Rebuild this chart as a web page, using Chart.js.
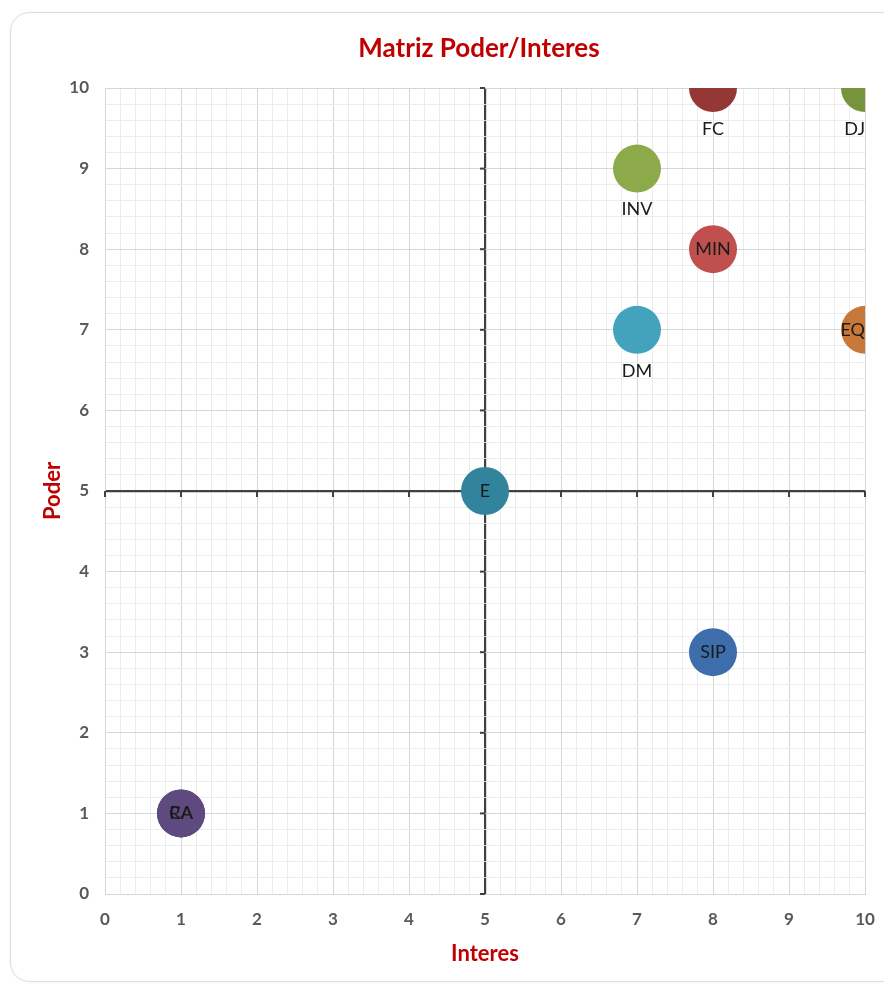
<!DOCTYPE html>
<html>
<head>
<meta charset="utf-8">
<script src="https://cdn.jsdelivr.net/npm/chart.js@4.4.1/dist/chart.umd.min.js"></script>
<style>
  html, body { margin: 0; padding: 0; background: #ffffff; overflow: hidden; }
  #card {
    position: absolute; left: 10px; top: 12px; width: 900px; height: 968px;
    border: 1px solid #dedede; border-radius: 20px; background: #ffffff;
    box-shadow: 0 0 3px rgba(0,0,0,0.06);
  }
  #c { position: absolute; left: 0; top: 0; }
</style>
</head>
<body>
<div id="card"></div>
<canvas id="c" width="884" height="985"></canvas>
<script>
// Stakeholders placed on the power / interest grid
const labels   = ['FC', 'DJ', 'INV', 'MIN', 'DM', 'EQ', 'E', 'SIP', 'RA', 'CA'];
const interes  = [8, 10, 7, 8, 7, 10, 5, 8, 1, 1];
const poder    = [10, 10, 9, 8, 7, 7, 5, 3, 1, 1];
const colores  = ['#953735', '#77933C', '#8DAA4A', '#C0504D', '#43A3BE', '#C8793A', '#31849B', '#3D6DAB', '#5E4A7E', '#5E4A7E'];
const labelPos = ['below', 'below', 'below', 'center', 'below', 'center', 'center', 'center', 'center', 'center'];
const xTicks   = [0, 1, 2, 3, 4, 5, 6, 7, 8, 9, 10];
const yTicks   = [0, 1, 2, 3, 4, 5, 6, 7, 8, 9, 10];
const chartTitle = 'Matriz Poder/Interes';

const AXIS_CROSS = 5;
const FONT = 'Lato, "Liberation Sans", sans-serif';

const datasets = labels.map((name, i) => ({
  label: name,
  data: [{ x: interes[i], y: poder[i] }],
  backgroundColor: colores[i],
  borderWidth: 0,
  clip: 0
}));

function tickLabel(v) {
  const r = Math.round(v);
  return Math.abs(v - r) < 1e-6 && xTicks.includes(r) ? String(r) : '';
}
function gridColor(ctx) {
  const v = ctx.tick ? ctx.tick.value : 0;
  if (Math.abs(v - AXIS_CROSS) < 1e-6) return '#404040';
  if (Math.abs(v - Math.round(v)) < 1e-6) return '#d6d6d6';
  return '#ececec';
}
function gridWidth(ctx) {
  const v = ctx.tick ? ctx.tick.value : 0;
  return Math.abs(v - AXIS_CROSS) < 1e-6 ? 2.2 : 1;
}

// Chart title, centred over the plot area
const plotTitle = {
  id: 'plotTitle',
  afterDraw(chart) {
    const { ctx, chartArea } = chart;
    ctx.save();
    ctx.font = 'bold 26px ' + FONT;
    ctx.fillStyle = '#C00000';
    ctx.textAlign = 'center';
    ctx.textBaseline = 'middle';
    ctx.fillText(chartTitle, (chartArea.left + chartArea.right) / 2 - 6, 49);
    ctx.restore();
  }
};

// Small tick marks along the two crossing axes
const crossTicks = {
  id: 'crossTicks',
  beforeDatasetsDraw(chart) {
    const { ctx, scales: { x, y } } = chart;
    const cx = x.getPixelForValue(AXIS_CROSS);
    const cy = y.getPixelForValue(AXIS_CROSS);
    ctx.save();
    ctx.strokeStyle = '#404040';
    ctx.lineWidth = 2;
    yTicks.forEach(v => {
      const py = y.getPixelForValue(v);
      ctx.beginPath(); ctx.moveTo(cx - 5, py); ctx.lineTo(cx, py); ctx.stroke();
    });
    xTicks.forEach(v => {
      const px = x.getPixelForValue(v);
      ctx.beginPath(); ctx.moveTo(px, cy); ctx.lineTo(px, cy + 6); ctx.stroke();
    });
    ctx.restore();
  }
};

// Data labels: centred on the bubble or placed underneath it
const bubbleLabels = {
  id: 'bubbleLabels',
  afterDatasetsDraw(chart) {
    const { ctx, chartArea } = chart;
    ctx.save();
    ctx.font = '18px ' + FONT;
    ctx.fillStyle = '#1a1a1a';
    ctx.textBaseline = 'middle';
    ctx.textAlign = 'center';
    chart.data.datasets.forEach((ds, i) => {
      const pt = chart.getDatasetMeta(i).data[0];
      if (!pt) return;
      const text = labels[i];
      const w = ctx.measureText(text).width;
      let px = pt.x;
      if (px + w / 2 > chartArea.right) px = chartArea.right - w / 2;
      let py = pt.y;
      if (labelPos[i] === 'below') py += 41;
      ctx.fillText(text, px, py);
    });
    ctx.restore();
  }
};

new Chart(document.getElementById('c'), {
  type: 'bubble',
  data: { datasets },
  options: {
    responsive: false,
    animation: false,
    layout: { autoPadding: false, padding: { left: 0, right: 19, top: 88, bottom: 0 } },
    elements: { point: { radius: 24, hoverRadius: 24 } },
    plugins: {
      legend: { display: false },
      tooltip: { enabled: false },
      title: { display: false }
    },
    scales: {
      x: {
        type: 'linear', min: 0, max: 10,
        ticks: {
          stepSize: 0.2, autoSkip: false, maxRotation: 0, padding: 2,
          color: '#595959', font: { family: FONT, size: 17, weight: 'bold' },
          callback: tickLabel
        },
        grid: { color: gridColor, lineWidth: gridWidth, drawTicks: true, tickLength: 13, tickColor: 'rgba(0,0,0,0)' },
        border: { color: '#d6d6d6', width: 1 },
        title: {
          display: true, text: 'Interes', color: '#C00000',
          font: { family: FONT, size: 22, weight: 'bold', lineHeight: 1.2 },
          padding: { top: 0, bottom: 18 }
        },
        afterFit(s) { s.height = 91; }
      },
      y: {
        type: 'linear', min: 0, max: 10,
        ticks: {
          stepSize: 0.2, autoSkip: false, padding: 16,
          color: '#595959', font: { family: FONT, size: 17, weight: 'bold' },
          callback: tickLabel
        },
        grid: { color: gridColor, lineWidth: gridWidth, drawTicks: false },
        border: { color: '#d6d6d6', width: 1 },
        title: {
          display: true, text: 'Poder', color: '#C00000',
          font: { family: FONT, size: 22, weight: 'bold', lineHeight: 1.2 },
          padding: { top: 40, bottom: 0 }
        },
        afterFit(s) { s.width = 105; }
      }
    }
  },
  plugins: [crossTicks, bubbleLabels, plotTitle]
});
</script>
</body>
</html>
